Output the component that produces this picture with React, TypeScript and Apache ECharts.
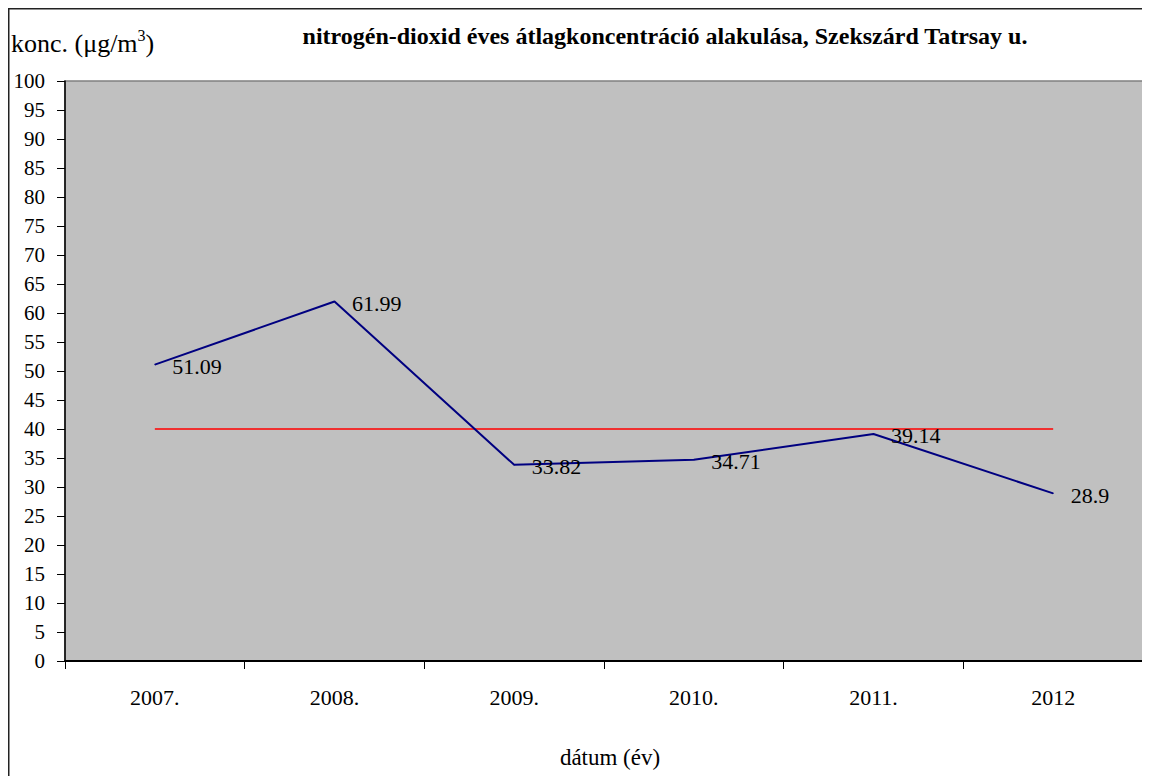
import React, { useEffect, useRef } from "react";
import * as echarts from "echarts";

const categories = ["2007.", "2008.", "2009.", "2010.", "2011.", "2012"];
const no2Values = [51.09, 61.99, 33.82, 34.71, 39.14, 28.9];
const limitValues = [40, 40, 40, 40, 40, 40];
const titleText = "nitrogén-dioxid éves átlagkoncentráció alakulása, Szekszárd Tatrsay u.";
const xAxisName = "dátum (év)";

const FONT = "Liberation Serif";

export default function App() {
  const ref = useRef<HTMLDivElement>(null);
  useEffect(() => {
    if (!ref.current) return;
    const chart = echarts.init(ref.current, undefined, { renderer: "svg" });
    chart.setOption({
      animation: false,
      backgroundColor: "#ffffff",
      textStyle: { fontFamily: FONT },
      title: {
        text: titleText,
        left: 652,
        top: 11,
        textAlign: "center",
        textStyle: { fontFamily: FONT, fontSize: 24, fontWeight: "bold", color: "#000" },
      },
      graphic: [
        {
          type: "rect",
          shape: { x: 0.75, y: 0.75, width: 1300, height: 900 },
          style: { fill: "none", stroke: "#222", lineWidth: 1.5 },
          silent: true,
          z: 100,
        },
        {
          type: "text",
          x: 3,
          y: 35,
          style: {
            text: "{a|konc. (μg/m}{s|3}{a|)}",
            verticalAlign: "middle",
            rich: {
              a: { fontFamily: FONT, fontSize: 26, fill: "#000", color: "#000" },
              s: { fontFamily: FONT, fontSize: 16, fill: "#000", color: "#000", padding: [0, 0, 15, 0] },
            },
          },
        },
        {
          type: "text",
          x: 602,
          y: 749,
          style: {
            text: xAxisName,
            fontFamily: FONT,
            fontSize: 23,
            fill: "#000",
            align: "center",
            verticalAlign: "middle",
          },
        },
      ],
      grid: {
        left: 57,
        top: 73,
        width: 1078,
        height: 580,
        show: true,
        backgroundColor: "#c0c0c0",
        borderColor: "#808080",
        borderWidth: 1.5,
      },
      xAxis: {
        type: "category",
        data: categories,
        boundaryGap: true,
        axisLine: { show: true, lineStyle: { color: "#000", width: 2 } },
        axisTick: { show: true, length: 8, inside: false, lineStyle: { color: "#000", width: 1 } },
        axisLabel: { fontFamily: FONT, fontSize: 22, color: "#000", margin: 25 },
        splitLine: { show: false },
      },
      yAxis: {
        type: "value",
        min: 0,
        max: 100,
        interval: 5,
        axisLine: { show: true, lineStyle: { color: "#000", width: 1.5 } },
        axisTick: { show: true, length: 8, lineStyle: { color: "#000", width: 1 } },
        axisLabel: { fontFamily: FONT, fontSize: 21, color: "#000", margin: 20 },
        splitLine: { show: false },
      },
      series: [
        {
          name: "határérték",
          type: "line",
          data: limitValues,
          symbol: "none",
          lineStyle: { color: "#ff0000", width: 1.5 },
          itemStyle: { color: "#ff0000" },
          z: 2,
        },
        {
          name: "NO2",
          type: "line",
          data: no2Values,
          symbol: "circle",
          symbolSize: 1,
          showSymbol: true,
          lineStyle: { color: "#000080", width: 2 },
          itemStyle: { color: "#000080" },
          label: {
            show: true,
            position: "right",
            distance: 17,
            fontFamily: FONT,
            fontSize: 22,
            color: "#000",
            offset: [0, 2],
          },
          z: 3,
        },
      ],
    });
    return () => chart.dispose();
  }, []);
  return <div ref={ref} style={{ width: 1150, height: 776 }} />;
}
